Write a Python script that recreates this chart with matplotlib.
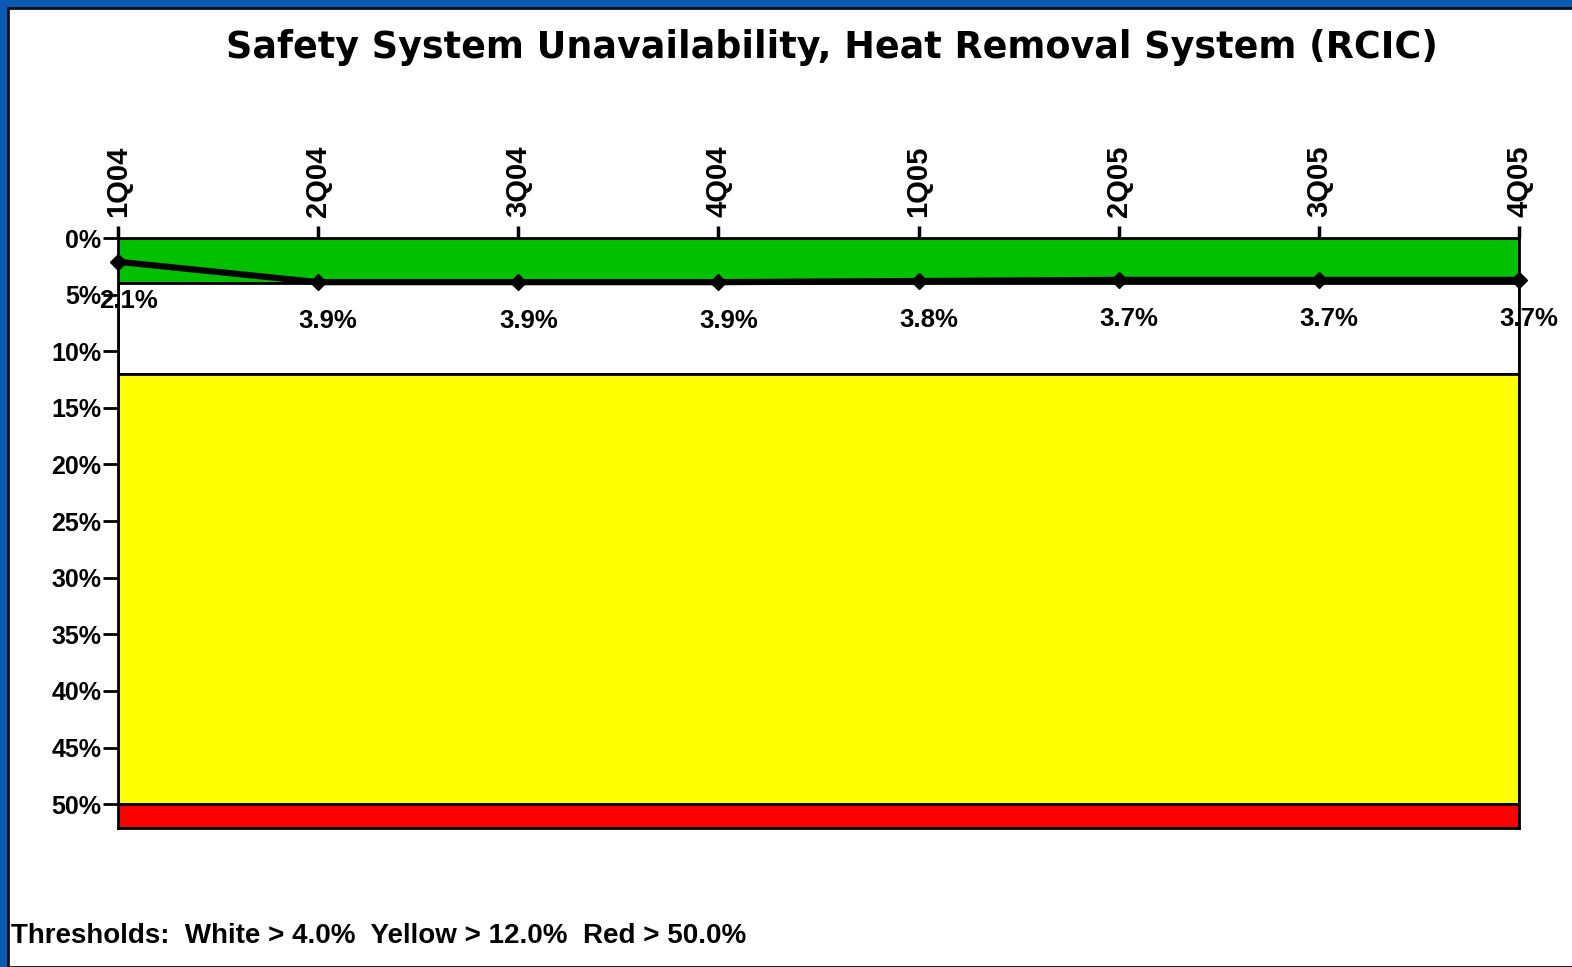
import matplotlib
matplotlib.use("Agg")
import matplotlib.pyplot as plt
from matplotlib.patches import Rectangle

quarters = ["1Q04", "2Q04", "3Q04", "4Q04", "1Q05", "2Q05", "3Q05", "4Q05"]
values = [2.1, 3.9, 3.9, 3.9, 3.8, 3.7, 3.7, 3.7]
band_edges = [0.0, 4.0, 12.0, 50.0, 52.1]
band_colors = ["#00C000", "#FFFFFF", "#FFFF00", "#FF0000"]
yticks = [0, 5, 10, 15, 20, 25, 30, 35, 40, 45, 50]
title = "Safety System Unavailability, Heat Removal System (RCIC)"
footer = "Thresholds:  White > 4.0%  Yellow > 12.0%  Red > 50.0%"

W, H = 1572, 967
fig = plt.figure(figsize=(W / 100, H / 100), dpi=100, facecolor="#0B5AB4")
fig.patches.append(Rectangle((8 / W, 0), 1, 1 - 8 / H, transform=fig.transFigure,
                             facecolor="white", edgecolor="#101010", linewidth=2, zorder=-5))

ax = fig.add_axes([118 / W, 1 - 828 / H, (1519 - 118) / W, (828 - 238) / H])
ax.set_zorder(2)
ax.set_facecolor("white")
for lo, hi, c in zip(band_edges[:-1], band_edges[1:], band_colors):
    ax.axhspan(lo, hi, facecolor=c, edgecolor="black", linewidth=2, zorder=1)

x = list(range(len(quarters)))
ax.plot(x, values, color="black", linewidth=4.5, marker="D", markersize=8,
        zorder=5, clip_on=False)
for xi, v in zip(x, values):
    ax.annotate(f"{v:.1f}%", (xi, v), xytext=(10, -39), textcoords="offset pixels",
                ha="center", va="center", fontsize=18.5, fontweight="bold",
                family="Liberation Sans", zorder=6, annotation_clip=False)

ax.set_xlim(0, len(quarters) - 1)
ax.set_ylim(band_edges[-1], 0)
ax.set_yticks(yticks)
ax.set_yticklabels([f"{t}%" for t in yticks], fontsize=18, fontweight="bold",
                   family="Liberation Sans")
ax.tick_params(axis="y", length=11, width=2, pad=1, direction="out")
ax.xaxis.tick_top()
ax.set_xticks(x)
ax.set_xticklabels(quarters, rotation=90, fontsize=21, fontweight="bold",
                   family="Liberation Sans")
ax.tick_params(axis="x", length=9, width=2.5, pad=6, direction="out")
for s in ax.spines.values():
    s.set_linewidth(2)
    s.set_zorder(7)

fig.text(832 / W, 1 - 48 / H, title, ha="center", va="center", fontsize=26.3,
         fontweight="bold", family="DejaVu Sans")
fig.text(11 / W, 1 - 936 / H, footer, ha="left", va="center", fontsize=20,
         fontweight="bold", family="Liberation Sans")

fig.savefig("out.png", dpi=100, facecolor=fig.get_facecolor())
